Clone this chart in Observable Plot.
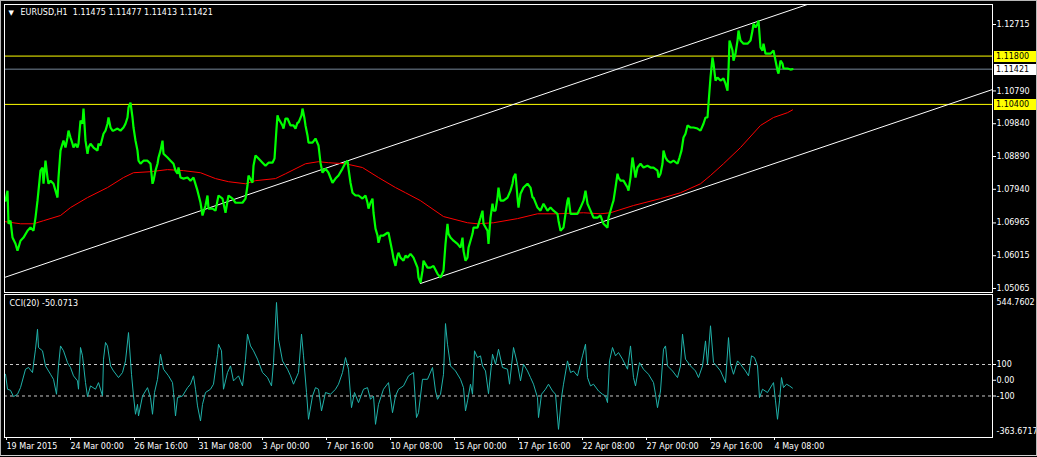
<!DOCTYPE html>
<html><head><meta charset="utf-8">
<script src="https://cdn.jsdelivr.net/npm/d3@7"></script>
<script src="https://cdn.jsdelivr.net/npm/@observablehq/plot@0.6"></script>
<style>
html,body{margin:0;padding:0;background:#000;}
#wrap{position:relative;width:1037px;height:457px;background:#000;overflow:hidden;}
#wrap svg{position:absolute;left:0;}
#border{position:absolute;left:0;top:0;width:1037px;height:456px;box-sizing:border-box;border:1px solid #b8b8b8;border-bottom-color:#d0d0d0;pointer-events:none}
</style></head><body>
<div id="wrap"><div id="border"></div></div>
<script>
// ---------- data ----------
const symbolLabel = "EURUSD,H1";
const lastBar = [1.11475, 1.11477, 1.11413, 1.11421];   // open high low close
const cciLabel = "CCI(20)";
const cciLast = -50.0713;

// bar index (H1 bars from 19 Mar 2015) , close
const closeSeries = [[0,1.0761],[2,1.0790],[3,1.0694],[5,1.0703],[7,1.0654],[10,1.0636],[12,1.0616],[15,1.0645],[18,1.0654],[22,1.0674],[25,1.0683],[28,1.0674],[30,1.0712],[32,1.0761],[33,1.0790],[35,1.0848],[37,1.0857],[38,1.0810],[40,1.0877],[42,1.0828],[43,1.0810],[45,1.0819],[48,1.0810],[50,1.0790],[52,1.0770],[53,1.0828],[55,1.0906],[57,1.0926],[58,1.0935],[60,1.0915],[62,1.0944],[63,1.0964],[65,1.0944],[67,1.0926],[68,1.0915],[70,1.0926],[72,1.0915],[73,1.0926],[75,1.0993],[77,1.0984],[78,1.1028],[80,1.0935],[82,1.0897],[83,1.0915],[85,1.0926],[88,1.0915],[92,1.0906],[93,1.0926],[95,1.0921],[98,1.0955],[100,1.0964],[102,1.0984],[103,1.1002],[105,1.0973],[107,1.0964],[108,1.0964],[112,1.0970],[115,1.0964],[118,1.0973],[120,1.0984],[122,1.1002],[123,1.1031],[125,1.1045],[127,1.1002],[128,1.0973],[130,1.0935],[132,1.0906],[133,1.0877],[135,1.0868],[138,1.0877],[142,1.0877],[145,1.0868],[147,1.0810],[148,1.0819],[150,1.0848],[152,1.0868],[153,1.0886],[155,1.0906],[157,1.0935],[158,1.0897],[162,1.0886],[165,1.0877],[168,1.0868],[170,1.0848],[172,1.0839],[173,1.0857],[175,1.0828],[178,1.0825],[182,1.0828],[185,1.0819],[188,1.0828],[192,1.0790],[195,1.0755],[197,1.0718],[200,1.0747],[202,1.0776],[203,1.0738],[207,1.0738],[210,1.0732],[213,1.0776],[217,1.0767],[220,1.0726],[223,1.0776],[227,1.0767],[230,1.0755],[233,1.0755],[237,1.0755],[240,1.0767],[242,1.0805],[243,1.0834],[247,1.0813],[248,1.0862],[250,1.0892],[253,1.0883],[257,1.0871],[260,1.0862],[263,1.0871],[267,1.0871],[269,1.0883],[271,1.0970],[272,1.1008],[273,1.0999],[277,1.0979],[278,1.0970],[280,1.0999],[282,1.0999],[285,1.0979],[288,1.0979],[290,1.0970],[292,1.0987],[293,1.0987],[296,1.1008],[297,1.1028],[299,1.0999],[300,1.0979],[302,1.0950],[303,1.0929],[307,1.0929],[310,1.0941],[313,1.0921],[315,1.0871],[317,1.0842],[320,1.0854],[323,1.0842],[327,1.0813],[330,1.0825],[333,1.0834],[337,1.0854],[340,1.0871],[342,1.0877],[343,1.0854],[345,1.0813],[347,1.0784],[350,1.0776],[353,1.0776],[357,1.0767],[360,1.0776],[362,1.0755],[363,1.0738],[365,1.0755],[367,1.0767],[368,1.0726],[370,1.0680],[372,1.0660],[373,1.0639],[375,1.0660],[378,1.0660],[382,1.0668],[383,1.0668],[385,1.0639],[387,1.0610],[388,1.0593],[390,1.0572],[392,1.0602],[393,1.0610],[395,1.0596],[398,1.0587],[400,1.0602],[402,1.0596],[405,1.0607],[408,1.0596],[412,1.0567],[413,1.0538],[415,1.0523],[417,1.0558],[418,1.0587],[422,1.0567],[425,1.0567],[428,1.0572],[432,1.0549],[435,1.0538],[438,1.0558],[440,1.0636],[442,1.0694],[443,1.0665],[445,1.0654],[448,1.0645],[452,1.0636],[455,1.0625],[457,1.0654],[458,1.0616],[460,1.0587],[462,1.0596],[463,1.0625],[465,1.0645],[467,1.0665],[468,1.0683],[472,1.0683],[475,1.0712],[477,1.0732],[478,1.0694],[482,1.0674],[483,1.0636],[485,1.0712],[487,1.0752],[488,1.0732],[490,1.0732],[492,1.0770],[493,1.0799],[495,1.0761],[498,1.0761],[502,1.0770],[505,1.0790],[507,1.0810],[508,1.0828],[510,1.0839],[512,1.0770],[513,1.0741],[515,1.0781],[518,1.0799],[522,1.0810],[525,1.0799],[527,1.0770],[528,1.0770],[532,1.0741],[535,1.0732],[538,1.0752],[542,1.0732],[545,1.0741],[548,1.0732],[552,1.0723],[553,1.0703],[555,1.0674],[558,1.0683],[560,1.0723],[562,1.0761],[563,1.0770],[565,1.0723],[568,1.0723],[572,1.0723],[575,1.0741],[578,1.0761],[580,1.0790],[582,1.0752],[585,1.0732],[588,1.0712],[592,1.0712],[595,1.0718],[598,1.0694],[602,1.0683],[603,1.0712],[605,1.0732],[607,1.0752],[608,1.0761],[610,1.0799],[612,1.0839],[613,1.0828],[615,1.0819],[618,1.0819],[622,1.0799],[623,1.0790],[625,1.0828],[627,1.0886],[628,1.0868],[630,1.0828],[632,1.0857],[635,1.0868],[638,1.0857],[642,1.0862],[645,1.0857],[648,1.0857],[652,1.0848],[653,1.0828],[655,1.0839],[657,1.0868],[658,1.0906],[660,1.0886],[662,1.0877],[665,1.0871],[668,1.0877],[672,1.0868],[674,1.0886],[676,1.0906],[678,1.0944],[680,1.0955],[682,1.0979],[685,1.0973],[688,1.0973],[692,1.0970],[695,1.0964],[698,1.0984],[700,1.1002],[702,1.1002],[703,1.1042],[705,1.1118],[707,1.1176],[708,1.1158],[710,1.1109],[712,1.1118],[715,1.1109],[718,1.1115],[720,1.1100],[722,1.1080],[723,1.1138],[724,1.1225],[725,1.1216],[727,1.1196],[728,1.1167],[730,1.1187],[732,1.1225],[733,1.1254],[735,1.1225],[738,1.1216],[742,1.1216],[745,1.1225],[747,1.1254],[748,1.1274],[750,1.1263],[752,1.1274],[753,1.1283],[755,1.1205],[757,1.1196],[758,1.1216],[760,1.1187],[762,1.1187],[765,1.1187],[768,1.1196],[770,1.1167],[772,1.1138],[773,1.1129],[775,1.1167],[777,1.1158],[778,1.1144],[782,1.1144],[785,1.1141],[787,1.1142]];

// moving average (red)
const maSeries = [[0,1.0700],[15,1.0694],[28,1.0694],[38,1.0703],[55,1.0718],[65,1.0741],[82,1.0770],[102,1.0799],[118,1.0828],[128,1.0842],[145,1.0845],[162,1.0851],[178,1.0848],[195,1.0842],[210,1.0825],[223,1.0816],[240,1.0810],[250,1.0819],[270,1.0825],[280,1.0839],[300,1.0868],[313,1.0874],[323,1.0871],[340,1.0868],[357,1.0857],[373,1.0828],[390,1.0799],[400,1.0784],[415,1.0761],[438,1.0715],[462,1.0697],[472,1.0694],[488,1.0697],[512,1.0709],[532,1.0723],[552,1.0723],[578,1.0726],[595,1.0723],[605,1.0726],[628,1.0747],[655,1.0767],[675,1.0784],[695,1.0810],[705,1.0834],[718,1.0868],[735,1.0915],[755,1.0979],[768,1.1002],[782,1.1016],[787,1.1024]];

// CCI(20)
const cciSeries = [[0,38],[2,-57],[5,-64],[8,-104],[12,-89],[15,-47],[20,70],[23,81],[27,49],[28,102],[30,197],[32,324],[33,208],[37,187],[40,91],[45,38],[48,6],[51,-89],[53,91],[55,218],[58,187],[62,112],[65,81],[68,28],[72,-4],[73,-57],[75,208],[77,155],[80,-15],[82,-104],[85,-36],[90,-57],[93,-15],[97,-100],[98,134],[100,240],[102,218],[105,91],[108,59],[113,17],[117,49],[120,123],[123,303],[126,38],[128,-100],[130,-216],[132,-153],[133,-227],[137,-100],[142,-47],[145,-110],[147,-216],[149,-78],[152,6],[155,165],[158,70],[163,28],[167,-15],[168,-78],[170,-227],[172,-110],[177,-100],[182,-47],[185,-25],[188,28],[190,-57],[192,-163],[195,-259],[197,-153],[200,-78],[205,-57],[208,-25],[212,165],[213,229],[216,187],[218,-57],[222,49],[225,91],[228,-4],[233,28],[237,-36],[240,134],[242,293],[245,218],[248,187],[252,134],[257,49],[262,17],[266,-36],[268,112],[271,494],[273,261],[277,123],[282,70],[285,28],[288,-25],[293,49],[296,293],[298,155],[301,-78],[303,-248],[307,-100],[310,-47],[313,-57],[316,-195],[320,-78],[325,-89],[330,-57],[333,-25],[337,49],[340,144],[343,70],[346,-174],[349,-78],[353,-142],[358,-57],[362,-47],[365,-121],[368,-100],[370,-280],[373,-153],[378,-57],[383,-15],[387,-206],[390,-100],[393,-57],[398,-36],[403,28],[408,49],[411,-237],[413,-206],[417,6],[422,6],[427,81],[430,-68],[432,-121],[435,-89],[438,38],[440,360],[442,229],[445,91],[450,59],[455,6],[458,-47],[460,-195],[462,-131],[465,-25],[467,-89],[469,187],[472,144],[475,155],[477,91],[480,59],[483,-85],[487,165],[490,102],[493,197],[497,81],[502,70],[504,-25],[508,208],[512,102],[515,-4],[518,102],[522,59],[525,17],[528,-25],[532,-110],[533,-237],[536,-89],[540,-57],[543,-25],[547,-68],[550,-89],[553,-312],[556,-110],[558,-25],[562,123],[565,49],[568,59],[572,28],[577,155],[580,229],[582,17],[585,-36],[588,-25],[593,-68],[597,-89],[600,-100],[602,-142],[604,123],[607,208],[610,155],[613,176],[617,134],[622,70],[625,218],[628,17],[630,-36],[634,112],[638,70],[643,38],[648,-15],[650,-89],[652,-174],[655,-68],[658,197],[660,218],[662,91],[667,59],[672,17],[675,91],[677,293],[680,134],[685,91],[690,59],[693,17],[697,91],[700,250],[702,102],[705,346],[708,112],[711,91],[715,59],[720,-15],[723,271],[725,102],[728,38],[732,123],[735,102],[740,59],[743,28],[746,155],[749,144],[752,91],[754,-110],[757,-57],[762,-78],[767,-25],[768,-15],[770,-131],[772,-248],[774,-131],[776,17],[778,-47],[781,-25],[784,-36],[787,-50]];

// trend channel anchors [bar index, price]
const channelUpper = [[0,1.05395],[987,1.15119]];
const channelLower = [[415,1.05210],[987,1.10831]];

// horizontal levels
const levelPrices = [1.11800, 1.10400];
const bidPrice = 1.11421;

// axes
const priceTicks = [1.12715, 1.10790, 1.09840, 1.08890, 1.07940, 1.06965, 1.06015, 1.05065];
const priceDomain = [1.04949, 1.13295];
const cciDomain = [-363.6717, 544.7602];
const cciLevels = [100, -100];
const cciTicks = [100, 0, -100];
const barDomain = [-1, 987];
const timeTickIndex = [0, 64, 128, 192, 256, 320, 384, 448, 512, 576, 640, 704, 768];
const timeTickLabels = ["19 Mar 2015","24 Mar 00:00","26 Mar 16:00","31 Mar 08:00","3 Apr 00:00","7 Apr 16:00","10 Apr 08:00","15 Apr 00:00","17 Apr 16:00","22 Apr 08:00","27 Apr 00:00","29 Apr 16:00","4 May 08:00"];

// ---------- drawing ----------
const FONT = "DejaVu Sans";
const FS = 8;
const fmt5 = d3.format(".5f");
const styleBase = {background: "transparent", color: "#ffffff", fontFamily: FONT, fontSize: FS + "px", overflow: "visible"};

const main = Plot.plot({
  width: 1037, height: 293,
  marginTop: 4, marginBottom: 1, marginLeft: 4, marginRight: 45,
  style: styleBase,
  x: {domain: barDomain, axis: null},
  y: {domain: priceDomain, axis: null},
  marks: [
    Plot.ruleY(levelPrices, {stroke: "#ffff00", strokeWidth: 1}),
    Plot.ruleY([bidPrice], {stroke: "#778899", strokeWidth: 1}),
    Plot.line(channelUpper, {x: d => d[0], y: d => d[1], stroke: "#ffffff", strokeWidth: 1, clip: true}),
    Plot.line(channelLower, {x: d => d[0], y: d => d[1], stroke: "#ffffff", strokeWidth: 1, clip: true}),
    Plot.line(maSeries, {x: d => d[0], y: d => d[1], stroke: "#ff0000", strokeWidth: 1}),
    Plot.line(closeSeries, {x: d => d[0], y: d => d[1], stroke: "#00ff00", strokeWidth: 2.2, strokeLinejoin: "miter"}),
    Plot.axisY(priceTicks, {anchor: "right", tickSize: 3, tickPadding: 1, tickFormat: fmt5, fill: "#ffffff", stroke: "#ffffff", fontSize: FS}),
    Plot.frame({stroke: "#ffffff"}),
    Plot.text(["▼"], {frameAnchor: "top-left", dx: 4, dy: 6, fill: "#ffffff", fontSize: 7}),
    Plot.text([symbolLabel + "  " + lastBar.map(fmt5).join(" ")], {frameAnchor: "top-left", dx: 16, dy: 5, fill: "#ffffff", fontSize: FS})
  ]
});

// price label boxes at the right axis
const ys = main.scale("y");
function priceBox(value, bg) {
  const y = Math.round(ys.apply(value));
  const g = d3.select(main).append("g");
  g.append("rect").attr("x", 994).attr("y", y - 5).attr("width", 42).attr("height", 11).attr("fill", bg);
  g.append("text").attr("x", 996).attr("y", y + 0.5).attr("dy", "0.35em")
    .attr("text-anchor", "start")
    .attr("fill", "#000").attr("font-family", FONT).attr("font-size", FS).text(fmt5(value));
}
levelPrices.forEach(v => priceBox(v, "#ffff00"));
priceBox(bidPrice, "#ffffff");

const cci = Plot.plot({
  width: 1037, height: 164,
  marginTop: 1, marginBottom: 20, marginLeft: 4, marginRight: 45,
  style: styleBase,
  x: {domain: barDomain, axis: null},
  y: {domain: cciDomain, axis: null},
  marks: [
    Plot.ruleY(cciLevels, {stroke: "#c8c8c8", strokeDasharray: "3,3"}),
    Plot.line(cciSeries, {x: d => d[0], y: d => d[1], stroke: "#20b2aa", strokeWidth: 1}),
    Plot.frame({stroke: "#ffffff"}),
    Plot.axisY(cciTicks, {anchor: "right", tickSize: 3, tickPadding: 1, tickFormat: d => d === 0 ? "0.00" : String(d), fill: "#ffffff", stroke: "#ffffff", fontSize: FS}),
    Plot.text([cciDomain[1]], {y: d => d, frameAnchor: "right", dx: 4, dy: 8, textAnchor: "start", text: d => d.toFixed(4), fill: "#ffffff", fontSize: FS}),
    Plot.text([cciDomain[0]], {y: d => d, frameAnchor: "right", dx: 4, dy: -6, textAnchor: "start", text: d => d.toFixed(4), fill: "#ffffff", fontSize: FS}),
    Plot.axisX(timeTickIndex, {anchor: "bottom", tickSize: 3, tickPadding: 3, textAnchor: "start", dx: 1,
      tickFormat: d => timeTickLabels[timeTickIndex.indexOf(d)], fill: "#ffffff", stroke: "#ffffff", fontSize: FS}),
    Plot.text([cciLabel + " " + cciLast.toFixed(4)], {frameAnchor: "top-left", dx: 5, dy: 6, fill: "#ffffff", fontSize: FS})
  ]
});

const wrap = document.getElementById("wrap");
main.style.top = "0px";
cci.style.top = "293px";
wrap.insertBefore(cci, wrap.firstChild);
wrap.insertBefore(main, wrap.firstChild);
</script>
</body></html>
